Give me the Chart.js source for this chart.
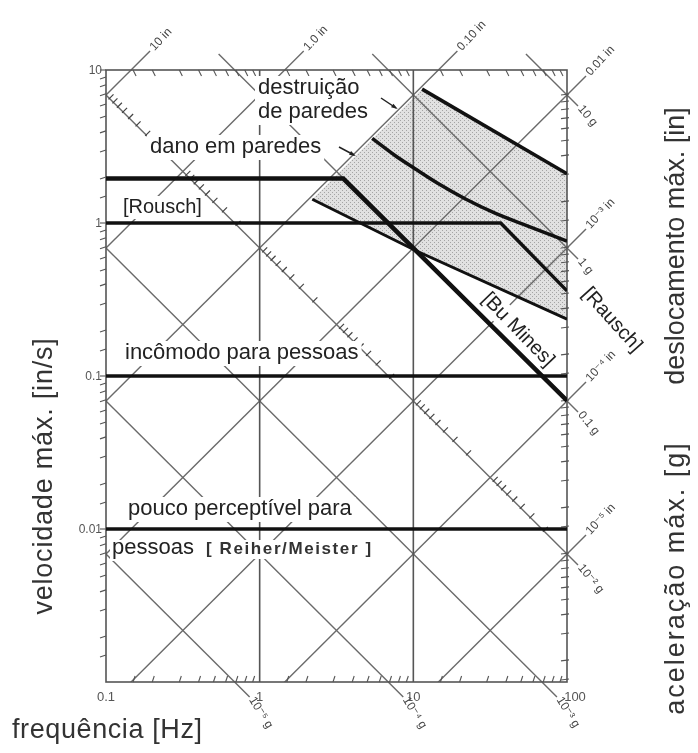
<!DOCTYPE html>
<html lang="pt">
<head>
<meta charset="utf-8">
<title>Critérios de vibração</title>
<script src="https://cdn.jsdelivr.net/npm/chart.js@4.4.1/dist/chart.umd.min.js"></script>
<style>
html,body{margin:0;padding:0;background:#fff;}
canvas{display:block;}
</style>
</head>
<body>
<canvas id="grafico" width="698" height="753"></canvas>
<script>
// Frequency axis (Hz) and velocity axis (in/s), both logarithmic
const freqTicks = [0.1, 1, 10, 100];
const freqTickLabels = ['0.1', '1', '10', '100'];
const velTicks = [10, 1, 0.1, 0.01];
const velTickLabels = ['10', '1', '0.1', '0.01'];

// Diagonal scales: constant displacement (in) and constant acceleration (g)
const dispValues = [10, 1, 0.1, 0.01, 1e-3, 1e-4, 1e-5];
const dispLabels = ['10 in', '1.0 in', '0.10 in', '0.01 in', '10⁻³ in', '10⁻⁴ in', '10⁻⁵ in'];
const accValues = [10, 1, 0.1, 1e-2, 1e-3, 1e-4, 1e-5];
const accLabels = ['10 g', '1 g', '0.1 g', '10⁻² g', '10⁻³ g', '10⁻⁴ g', '10⁻⁵ g'];
const dispFactor = 6.87;   // velocity per (Hz · in) on this grid
const accFactor = 68.7;    // velocity · Hz per g on this grid

// Criteria: frequency (Hz) and peak particle velocity (in/s)
const destruicaoFreq = [11.4, 100];
const destruicaoVel = [7.5, 2.1];
const danoFreq = [5.4, 7.6, 10.2, 14.5, 21.7, 34, 55.7, 100];
const danoVel = [3.57, 2.76, 2.27, 1.81, 1.44, 1.16, 0.955, 0.76];
const limiteFreq = [2.2, 10.5, 100];
const limiteVel = [1.43, 0.656, 0.235];
const rauschFreq = [0.1, 37, 100];
const rauschVel = [1, 1, 0.36];
const buMinesFreq = [0.1, 3.5, 100];
const buMinesVel = [1.95, 1.95, 0.069];
const incomodoFreq = [0.1, 100];
const incomodoVel = [0.1, 0.1];
const perceptivelFreq = [0.1, 100];
const perceptivelVel = [0.01, 0.01];

// Shaded damage zone outline
const zonaFreq = [2.2, 11.4, 100, 100, 10.5];
const zonaVel = [1.43, 7.5, 2.1, 0.235, 0.656];

const pts = (fs, vs) => fs.map((f, i) => ({ x: f, y: vs[i] }));
const FONT = "'Liberation Sans', Arial, 'DejaVu Sans', sans-serif";

function makeStipple(ctx) {
  const c = document.createElement('canvas');
  c.width = 4; c.height = 4;
  const g = c.getContext('2d');
  g.fillStyle = '#e1e1e1'; g.fillRect(0, 0, 4, 4);
  g.fillStyle = '#a4a4a4';
  g.fillRect(0, 0, 1, 1); g.fillRect(2, 2, 1, 1);
  return ctx.createPattern(c, 'repeat');
}

function line(ctx, x1, y1, x2, y2) {
  ctx.beginPath(); ctx.moveTo(x1, y1); ctx.lineTo(x2, y2); ctx.stroke();
}

function text(ctx, s, x, y, opt) {
  ctx.save();
  ctx.font = opt.font;
  if (opt.spacing) ctx.letterSpacing = opt.spacing;
  ctx.textAlign = opt.align || 'left';
  ctx.textBaseline = opt.baseline || 'alphabetic';
  ctx.translate(x, y);
  if (opt.rot) ctx.rotate(opt.rot * Math.PI / 180);
  if (opt.bg) {
    const m = ctx.measureText(s);
    const l = -m.actualBoundingBoxLeft - 3, r = m.actualBoundingBoxRight + 3;
    const t = -m.actualBoundingBoxAscent - 2, b = m.actualBoundingBoxDescent + 2;
    ctx.fillStyle = '#fff';
    ctx.fillRect(l, t, r - l, b - t);
  }
  ctx.fillStyle = opt.color || '#222';
  ctx.fillText(s, 0, 0);
  ctx.restore();
}

const tripartite = {
  id: 'tripartite',
  beforeDatasetsDraw(chart) {
    const { ctx, chartArea: ca, scales } = chart;
    const px = f => scales.x.getPixelForValue(f);
    const py = v => scales.y.getPixelForValue(v);
    const dv = (D, f) => dispFactor * f * D;
    const av = (a, f) => accFactor * a / f;

    // shaded zone
    ctx.save();
    ctx.beginPath();
    zonaFreq.forEach((f, i) => {
      const X = px(f), Y = py(zonaVel[i]);
      if (i) ctx.lineTo(X, Y); else ctx.moveTo(X, Y);
    });
    ctx.closePath();
    ctx.fillStyle = makeStipple(ctx);
    ctx.fill();
    ctx.restore();

    // grid inside the frame
    ctx.save();
    ctx.beginPath(); ctx.rect(ca.left, ca.top, ca.right - ca.left, ca.bottom - ca.top); ctx.clip();
    ctx.strokeStyle = '#6a6a6a'; ctx.lineWidth = 1.4;
    dispValues.forEach(D => line(ctx, px(0.1), py(dv(D, 0.1)), px(100), py(dv(D, 100))));
    accValues.forEach(a => line(ctx, px(0.1), py(av(a, 0.1)), px(100), py(av(a, 100))));
    ctx.strokeStyle = '#555'; ctx.lineWidth = 1.6;
    [1, 10].forEach(f => line(ctx, px(f), ca.top, px(f), ca.bottom));

    // displacement ticks along the 0.01 g line
    ctx.strokeStyle = '#444'; ctx.lineWidth = 1.2;
    for (let n = -6; n <= 1; n++) {
      for (let k = 2; k <= 9; k++) {
        const D = k * Math.pow(10, n);
        const f = Math.sqrt(accFactor * 0.01 / (dispFactor * D));
        if (f <= 0.1 || f >= 100) continue;
        const X = px(f), Y = py(av(0.01, f));
        line(ctx, X - 1, Y + 1, X + 4, Y - 4);
      }
    }
    ctx.restore();

    // extensions and labels of the diagonal scales
    ctx.save();
    ctx.strokeStyle = '#6a6a6a'; ctx.lineWidth = 1.4;
    dispValues.forEach((D, i) => {
      const fTop = 10 / (dispFactor * D);
      let X, Y;
      if (fTop <= 100) { X = px(fTop); Y = ca.top; } else { X = ca.right; Y = py(dv(D, 100)); }
      if (Y > ca.bottom) return;
      line(ctx, X, Y, X + 19, Y - 19);
      text(ctx, dispLabels[i], X + 21, Y - 21, { font: '12px ' + FONT, rot: -47, baseline: 'middle', color: '#444' });
    });
    accValues.forEach((a, i) => {
      const fBot = accFactor * a / 0.001;
      let X, Y, bottom = false;
      if (fBot <= 100) { X = px(fBot); Y = ca.bottom; bottom = true; } else { X = ca.right; Y = py(av(a, 100)); }
      if (Y < ca.top) return;
      if (fBot < 0.1) return;
      const e = bottom ? 15 : 11;
      line(ctx, X, Y, X + e, Y + e);
      text(ctx, accLabels[i], X + e + 2, Y + e + 1, { font: '12px ' + FONT, rot: bottom ? 58 : 50, baseline: 'middle', color: '#444' });
      // entry at the top edge
      const fTop = accFactor * a / 10;
      if (fTop > 0.1 && fTop < 100) line(ctx, px(fTop), ca.top, px(fTop) - 16, ca.top - 16);
    });
    ctx.restore();

    // frame
    ctx.save();
    ctx.strokeStyle = '#555'; ctx.lineWidth = 1.6;
    ctx.strokeRect(ca.left, ca.top, ca.right - ca.left, ca.bottom - ca.top);

    // minor ticks on the frame
    ctx.lineWidth = 1.1; ctx.strokeStyle = '#555';
    const minors = [1.5, 2, 3, 4, 5, 6, 7, 8, 9];
    [0.1, 1, 10].forEach(d => minors.forEach(k => {
      const X = px(d * k);
      line(ctx, X, ca.bottom, X + 2, ca.bottom - 6);
      line(ctx, X, ca.top, X + 3, ca.top + 6);
    }));
    [0.001, 0.01, 0.1, 1].forEach(d => minors.forEach(k => {
      const Y = py(d * k);
      line(ctx, ca.left - 6, Y + 2, ca.left, Y);
    }));
    [0.0001, 0.001, 0.01, 0.1, 1].forEach(d => [1, ...minors].forEach(k => {
      const v = 0.687 * d * k * 10;
      if (v < 0.001 || v > 10) return;
      const Y = py(v);
      line(ctx, ca.right - 6, Y, ca.right + 2, Y - 1);
    }));
    velTicks.forEach(v => line(ctx, ca.left - 6, py(v), ca.left, py(v)));
    ctx.restore();

    // axis numbers
    velTicks.forEach((v, i) => text(ctx, velTickLabels[i], ca.left - 4, py(v) + 4, { font: '12px ' + FONT, align: 'right', color: '#555' }));
    freqTicks.forEach((f, i) => text(ctx, freqTickLabels[i], px(f) + (i === 3 ? 8 : 0), ca.bottom + 19, { font: '13px ' + FONT, align: 'center', color: '#555' }));

    // criterion labels (white boxes hide the grid behind them)
    const big = '22px ' + FONT;
    text(ctx, 'destruição', 258, 94, { font: big, bg: true });
    text(ctx, 'de paredes', 258, 118, { font: big, bg: true });
    text(ctx, 'dano em paredes', 150, 153, { font: big, bg: true });
    text(ctx, '[Rousch]', 123, 213, { font: '20px ' + FONT, bg: true });
    text(ctx, 'incômodo para pessoas', 125, 359, { font: big, bg: true });
    text(ctx, 'pouco perceptível para', 128, 515, { font: big, bg: true });
    text(ctx, 'pessoas', 112, 554, { font: big, bg: true });
    text(ctx, '[ Reiher/Meister ]', 206, 554, { font: 'bold 17px ' + FONT, spacing: '1.6px', bg: true, color: '#333' });
    text(ctx, '[Bu Mines]', 518, 330, { font: '20px ' + FONT, rot: 46, align: 'center', baseline: 'middle', bg: true });
    text(ctx, '[Rausch]', 612, 320, { font: '20px ' + FONT, rot: 48, align: 'center', baseline: 'middle', bg: true });

    // leader arrows
    ctx.save();
    ctx.strokeStyle = '#222'; ctx.fillStyle = '#222'; ctx.lineWidth = 1.5;
    [[381, 98, 396, 108], [339, 147, 354, 155]].forEach(([x1, y1, x2, y2]) => {
      line(ctx, x1, y1, x2, y2);
      const ang = Math.atan2(y2 - y1, x2 - x1);
      ctx.beginPath();
      ctx.moveTo(x2 + 2 * Math.cos(ang), y2 + 2 * Math.sin(ang));
      ctx.lineTo(x2 - 5 * Math.cos(ang - 0.45), y2 - 5 * Math.sin(ang - 0.45));
      ctx.lineTo(x2 - 5 * Math.cos(ang + 0.45), y2 - 5 * Math.sin(ang + 0.45));
      ctx.closePath(); ctx.fill();
    });
    ctx.restore();

    // axis titles
    const title = '27px ' + FONT;
    text(ctx, 'velocidade máx. [in/s]', 45, 476, { font: title, spacing: '0.8px', rot: -90, align: 'center', baseline: 'middle', color: '#333' });
    text(ctx, 'deslocamento máx. [in]', 677, 246, { font: title, rot: -90, align: 'center', baseline: 'middle', color: '#333' });
    text(ctx, 'aceleração máx. [g]', 677, 578, { font: title, spacing: '2px', rot: -90, align: 'center', baseline: 'middle', color: '#333' });
    text(ctx, 'frequência [Hz]', 12, 738, { font: title, spacing: '0.6px', color: '#333' });
  }
};

const serie = (fs, vs, w, extra) => Object.assign({
  data: pts(fs, vs), showLine: true, borderColor: '#111', backgroundColor: '#111',
  borderWidth: w, pointRadius: 0, fill: false, borderCapStyle: 'butt', borderJoinStyle: 'miter'
}, extra || {});

new Chart(document.getElementById('grafico'), {
  type: 'scatter',
  data: {
    datasets: [
      serie(destruicaoFreq, destruicaoVel, 3.5),
      serie(danoFreq, danoVel, 3.5, { cubicInterpolationMode: 'monotone' }),
      serie(limiteFreq, limiteVel, 3),
      serie(rauschFreq, rauschVel, 3.5),
      serie(buMinesFreq, buMinesVel, 4.5),
      serie(incomodoFreq, incomodoVel, 3.5),
      serie(perceptivelFreq, perceptivelVel, 3.5)
    ]
  },
  options: {
    responsive: false,
    devicePixelRatio: 1,
    animation: false,
    events: [],
    layout: { padding: { left: 106, right: 131, top: 70, bottom: 71 } },
    scales: {
      x: { type: 'logarithmic', min: 0.1, max: 100, display: false },
      y: { type: 'logarithmic', min: 0.001, max: 10, display: false }
    },
    plugins: { legend: { display: false }, tooltip: { enabled: false } }
  },
  plugins: [tripartite]
});
</script>
</body>
</html>
